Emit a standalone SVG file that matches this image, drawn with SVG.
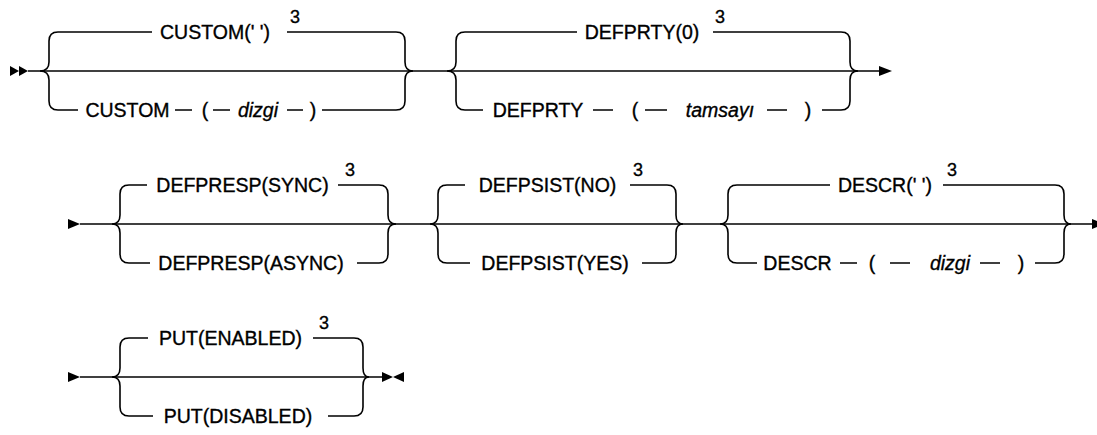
<svg xmlns="http://www.w3.org/2000/svg" width="1097" height="435" viewBox="0 0 1097 435">
<style>
.ln{fill:none;stroke:#000;stroke-width:1.6;stroke-linecap:butt}
.ah{fill:#000;stroke:none}
.t{font-family:"Liberation Sans",Arial,sans-serif;font-size:19.5px;fill:#000;stroke:#000;stroke-width:0.35;text-anchor:middle}
.v{font-style:italic}
.n{font-family:"Liberation Sans",Arial,sans-serif;font-size:18px;fill:#000;stroke:#000;stroke-width:0.35;text-anchor:middle}
</style>
<rect width="1097" height="435" fill="#fff"/>
<g id="connectors">
<!-- row 1 -->
<polygon class="ah" points="10,66 19,71 10,76"/>
<polygon class="ah" points="19,66 28,71 19,76"/>
<path class="ln" d="M28 71H879"/>
<path class="ln" d="M58 32Q49 32 49 41V62Q49 71 40 71M40 71Q49 71 49 80V101Q49 110 58 110"/>
<path class="ln" d="M396 32Q405 32 405 41V62Q405 71 413 71M413 71Q405 71 405 80V101Q405 110 396 110"/>
<path class="ln" d="M58 32H152M287 32H396"/>
<path class="ln" d="M58 110H78M175 110H192M213 110H230M287 110H303M322 110H396"/>
<path class="ln" d="M465 32Q456 32 456 41V62Q456 71 447 71M447 71Q456 71 456 80V101Q456 110 465 110"/>
<path class="ln" d="M841 32Q850 32 850 41V62Q850 71 858 71M858 71Q850 71 850 80V101Q850 110 841 110"/>
<path class="ln" d="M465 32H577M713 32H841"/>
<path class="ln" d="M465 110H483M593 110H613M645 110H667M767 110H787M822 110H841"/>
<polygon class="ah" points="879,66 892,71 879,76"/>
<!-- row 2 -->
<polygon class="ah" points="68,219 80,224 68,229"/>
<path class="ln" d="M80 224H1092"/>
<path class="ln" d="M129 185Q120 185 120 194V215Q120 224 112 224M112 224Q120 224 120 233V254Q120 263 129 263"/>
<path class="ln" d="M379 185Q388 185 388 194V215Q388 224 396 224M396 224Q388 224 388 233V254Q388 263 379 263"/>
<path class="ln" d="M129 185H147M338 185H379M129 263H150M357 263H379"/>
<path class="ln" d="M447 185Q438 185 438 194V215Q438 224 430 224M430 224Q438 224 438 233V254Q438 263 447 263"/>
<path class="ln" d="M667 185Q676 185 676 194V215Q676 224 683 224M683 224Q676 224 676 233V254Q676 263 667 263"/>
<path class="ln" d="M447 185H465M630 185H667M447 263H470M642 263H667"/>
<path class="ln" d="M737 185Q728 185 728 194V215Q728 224 720 224M720 224Q728 224 728 233V254Q728 263 737 263"/>
<path class="ln" d="M1055 185Q1064 185 1064 194V215Q1064 224 1071 224M1071 224Q1064 224 1064 233V254Q1064 263 1055 263"/>
<path class="ln" d="M737 185H830M943 185H1055"/>
<path class="ln" d="M737 263H757M840 263H857M890 263H910M980 263H1000M1035 263H1055"/>
<polygon class="ah" points="1092,219 1104,224 1092,229"/>
<!-- row 3 -->
<polygon class="ah" points="68,372 80,377 68,382"/>
<path class="ln" d="M80 377H382"/>
<path class="ln" d="M129 338Q120 338 120 347V368Q120 377 112 377M112 377Q120 377 120 386V407Q120 416 129 416"/>
<path class="ln" d="M354 338Q363 338 363 347V368Q363 377 369 377M369 377Q363 377 363 386V407Q363 416 354 416"/>
<path class="ln" d="M129 338H148M313 338H354M129 416H153M328 416H354"/>
<polygon class="ah" points="382,372 393,377 382,382"/>
<polygon class="ah" points="404,372 393,377 404,382"/>
</g>
<g id="custom-default"><text class="t" x="215" y="39">CUSTOM(' ')</text><text class="n" x="295" y="23">3</text></g>
<g id="custom-value"><text class="t" x="127.5" y="117">CUSTOM</text><text class="t" x="205" y="117">(</text><text class="t v" x="258" y="117">dizgi</text><text class="t" x="313" y="117">)</text></g>
<g id="defprty-default"><text class="t" x="642" y="39">DEFPRTY(0)</text><text class="n" x="720" y="23">3</text></g>
<g id="defprty-value"><text class="t" x="538" y="117">DEFPRTY</text><text class="t" x="635" y="117">(</text><text class="t v" x="720" y="117">tamsayı</text><text class="t" x="808" y="117">)</text></g>
<g id="defpresp-sync"><text class="t" x="242.5" y="192">DEFPRESP(SYNC)</text><text class="n" x="350" y="176">3</text></g>
<g id="defpresp-async"><text class="t" x="251" y="270">DEFPRESP(ASYNC)</text></g>
<g id="defpsist-no"><text class="t" x="547.5" y="192">DEFPSIST(NO)</text><text class="n" x="638" y="176">3</text></g>
<g id="defpsist-yes"><text class="t" x="555" y="270">DEFPSIST(YES)</text></g>
<g id="descr-default"><text class="t" x="885" y="192">DESCR(' ')</text><text class="n" x="952" y="176">3</text></g>
<g id="descr-value"><text class="t" x="797.5" y="270">DESCR</text><text class="t" x="872" y="270">(</text><text class="t v" x="950" y="270">dizgi</text><text class="t" x="1021" y="270">)</text></g>
<g id="put-enabled"><text class="t" x="230.5" y="345">PUT(ENABLED)</text><text class="n" x="324" y="329">3</text></g>
<g id="put-disabled"><text class="t" x="238" y="423">PUT(DISABLED)</text></g>
</svg>
